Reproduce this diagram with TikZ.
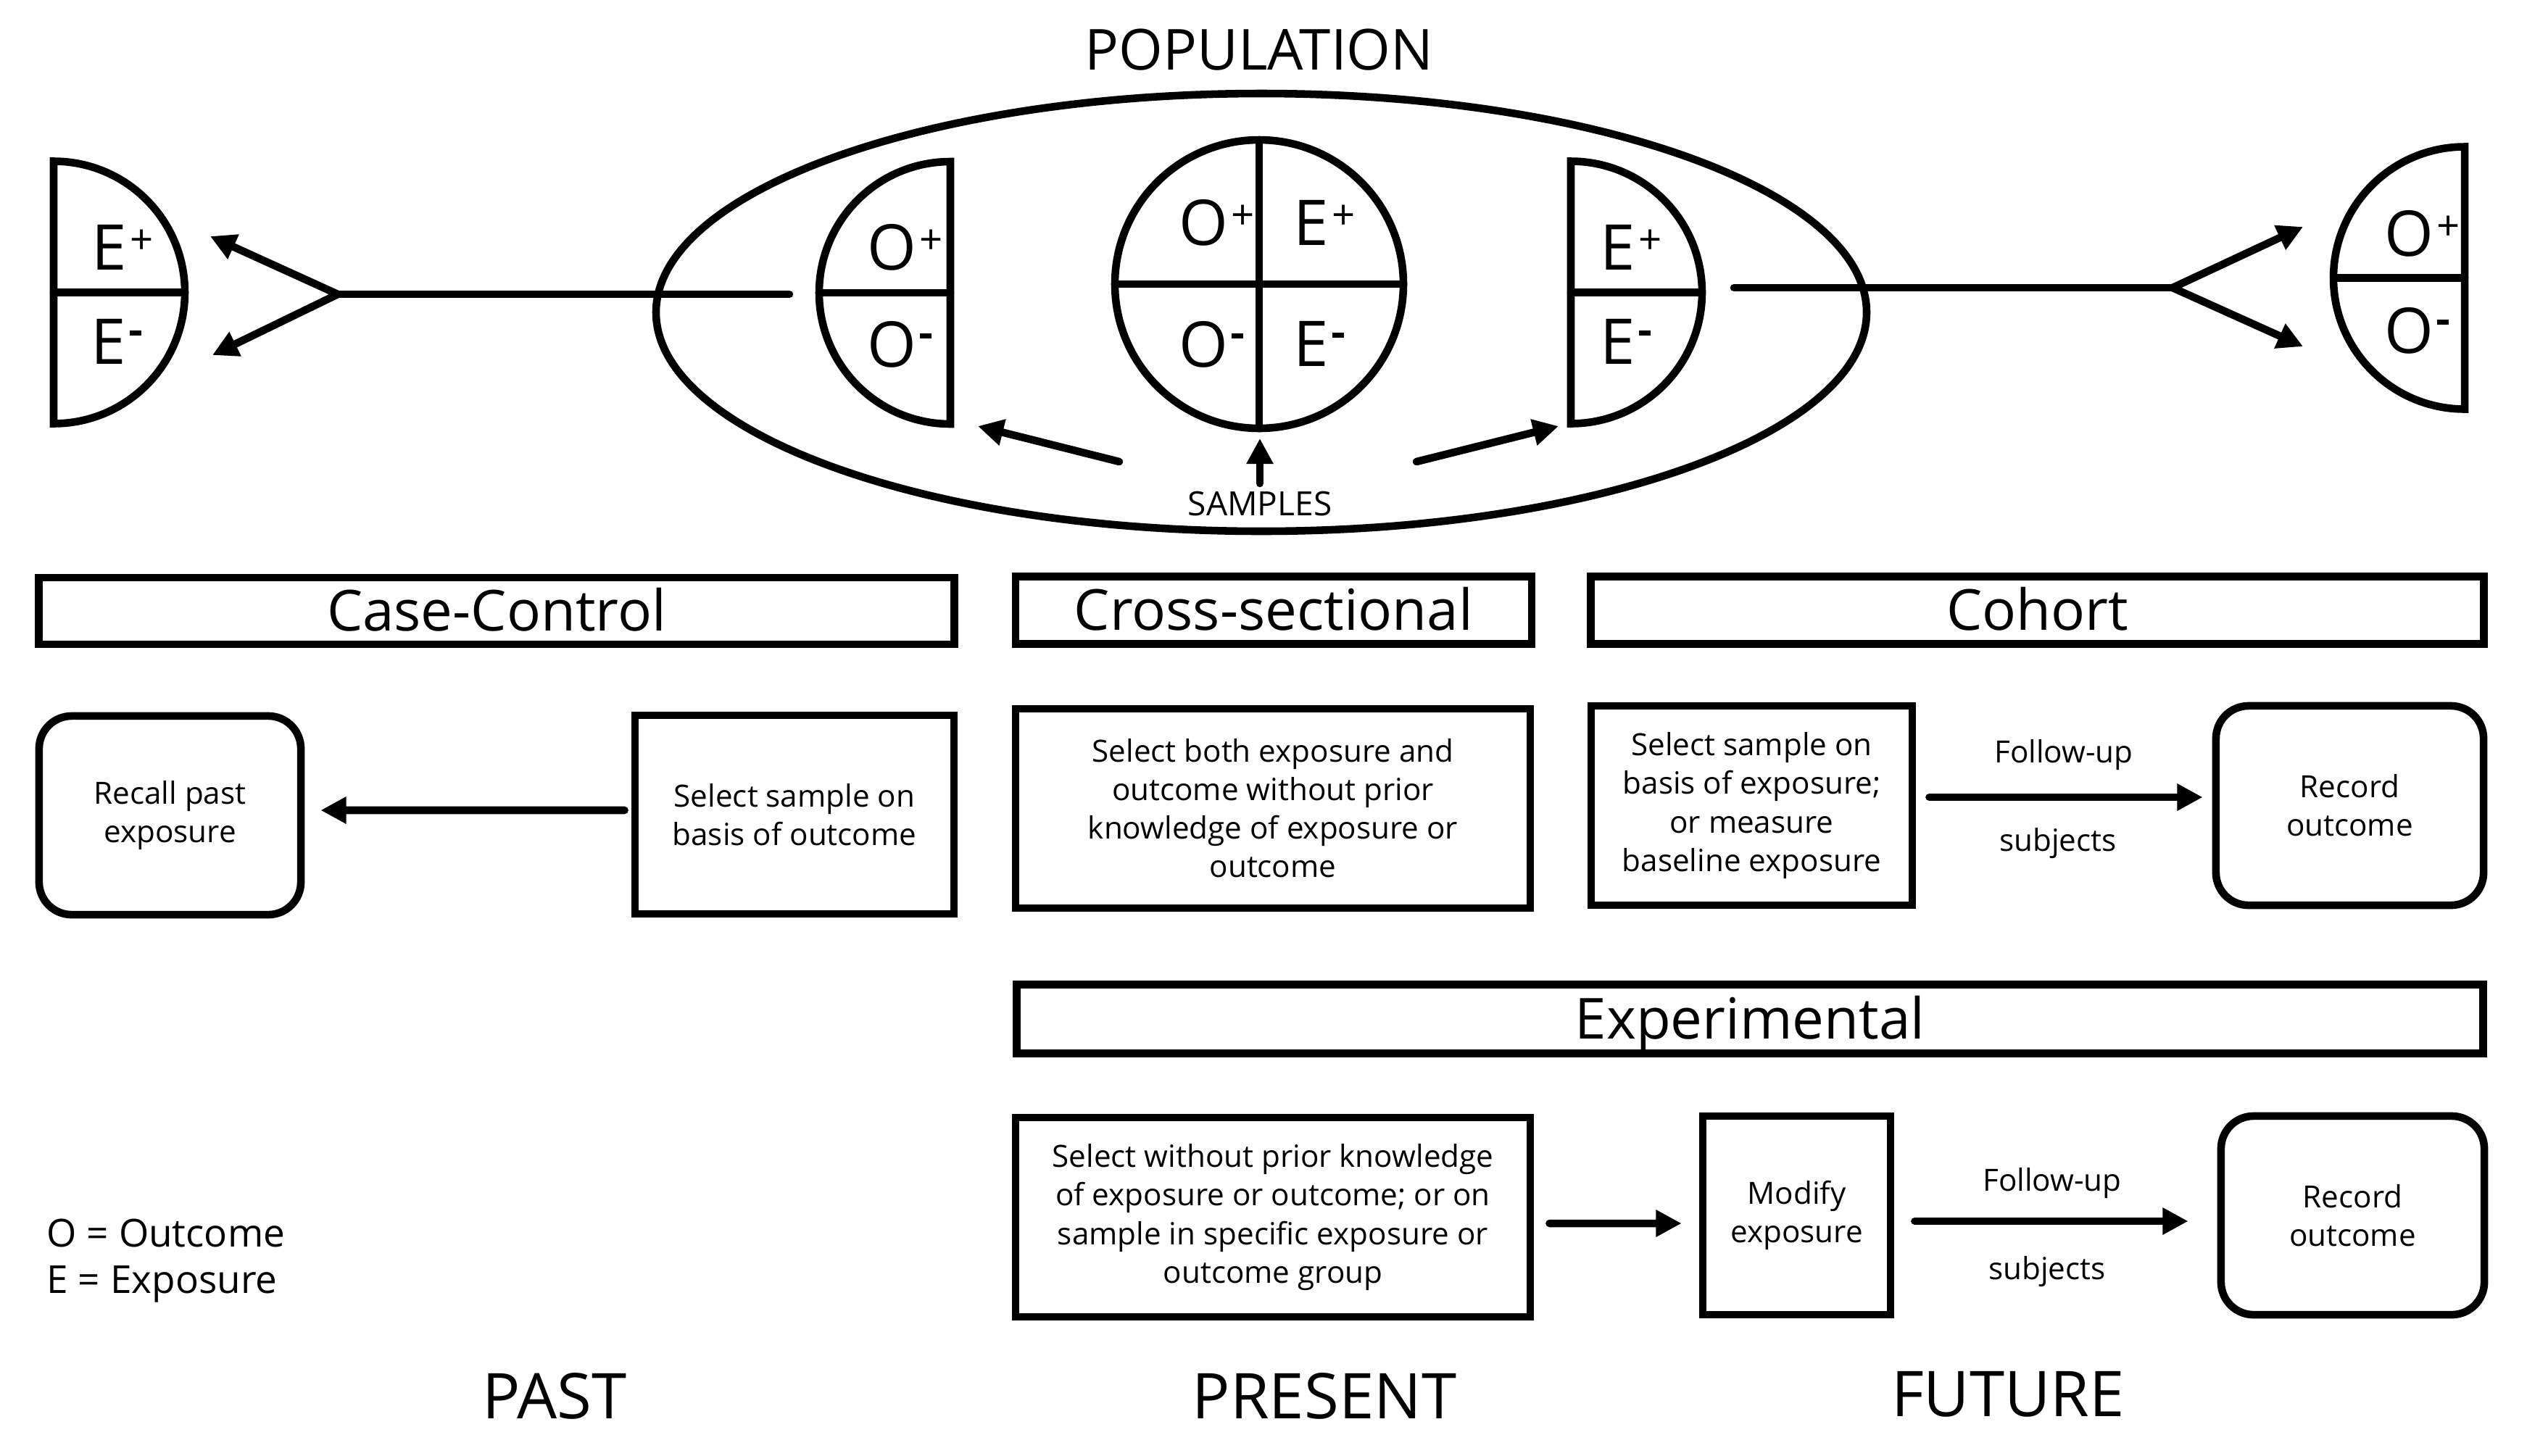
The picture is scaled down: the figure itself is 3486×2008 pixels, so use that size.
\documentclass[tikz,border=0pt]{standalone}
\usepackage{fontspec}
\setmainfont{Open Sans}
\usetikzlibrary{arrows.meta}
\newcommand\pl{\kern1.2pt\raisebox{6pt}{\fontsize{16}{16}\selectfont +}}
\newcommand\mi{\kern1.4pt\raisebox{11pt}{\rule{4.5pt}{2.2pt}}}
\tikzset{
 ln/.style={line width=3pt, line cap=round},
 tipA/.tip={Triangle[length=10pt,width=10pt]},
 arr/.style={ln, -tipA},
 boxn/.style={draw, line width=3pt, align=center, inner sep=0pt, font=\fontsize{12}{15.1}\selectfont},
 rbox/.style={boxn, rounded corners=0.45cm},
 bar/.style={draw, line width=3pt, inner sep=0pt, text height=15.9pt, text depth=0pt, font=\fontsize{22.2}{26}\selectfont},
 eo/.style={inner sep=0pt, anchor=base west, font=\fontsize{24.75}{28}\selectfont},
 big/.style={inner sep=0pt, anchor=base, font=\fontsize{24.75}{28}\selectfont},
 small/.style={inner sep=0pt, anchor=base, font=\fontsize{12}{15.1}\selectfont},
 leg/.style={inner sep=0pt, anchor=base west, font=\fontsize{15.1}{18}\selectfont},
}
\begin{document}
\begin{tikzpicture}[x=0.01cm,y=-0.01cm]
\fill[white] (0,0) rectangle (3486,2008);
\useasboundingbox (0,0) rectangle (3486,2008);

% population
\node[inner sep=0pt, anchor=base, font=\fontsize{22.2}{26}\selectfont] (pop) at (1737,96) {POPULATION};
\draw[ln] (1740,431) ellipse [x radius=835, y radius=302];

% left E half-disc
\draw[ln] (74,222.5) arc[start angle=-90, end angle=90, radius=181] -- cycle;
\draw[ln] (74,403.5) -- (255,403.5);
\node[eo] (le1) at (126,372) {E\pl};
\node[eo] (le2) at (125,502) {E\mi};

% middle O half-disc
\draw[ln] (1311,223) arc[start angle=-90, end angle=-270, radius=181] -- cycle;
\draw[ln] (1130,404) -- (1311,404);
\node[eo] (mo1) at (1196,372) {O\pl};
\node[eo] (mo2) at (1196,506) {O\mi};

% central circle
\draw[ln] (1737,392) circle[radius=199];
\draw[ln] (1538,392) -- (1936,392);
\draw[ln] (1737,193) -- (1737,591);
\node[eo] (co1) at (1626,338) {O\pl};
\node[eo] (ce1) at (1784,338) {E\pl};
\node[eo] (co2) at (1626,506) {O\mi};
\node[eo] (ce2) at (1784,505) {E\mi};

% right E half-disc
\draw[ln] (2167,222.5) arc[start angle=-90, end angle=90, radius=181] -- cycle;
\draw[ln] (2167,403.5) -- (2348,403.5);
\node[eo] (re1) at (2207,372) {E\pl};
\node[eo] (re2) at (2207,502) {E\mi};

% far right O half-disc
\draw[ln] (3400,202.5) arc[start angle=-90, end angle=-270, radius=181] -- cycle;
\draw[ln] (3219,383.5) -- (3400,383.5);
\node[eo] (fo1) at (3289,353) {O\pl};
\node[eo] (fo2) at (3289,487) {O\mi};

% left fork
\coordinate (lfe) at (1089,406);
\coordinate (lf) at (466,406);
\coordinate (lt1) at (290,326);
\coordinate (lt2) at (293,490);
\draw[ln] (lfe) -- (lf);
\draw[ln, tipA-tipA] (lt1) -- (lf) -- (lt2);

% right fork
\coordinate (rfs) at (2392,397);
\coordinate (rf) at (2997,397);
\coordinate (rt1) at (3177,313);
\coordinate (rt2) at (3177,478);
\draw[ln] (rfs) -- (rf);
\draw[ln, tipA-tipA] (rt1) -- (rf) -- (rt2);

% samples
\node[inner sep=0pt, anchor=base, font=\fontsize{13.1}{16}\selectfont] (samples) at (1738,711) {SAMPLES};
\coordinate (su0) at (1738,667); \coordinate (su1) at (1738,605);
\coordinate (sl0) at (1544,637); \coordinate (sl1) at (1349,588);
\coordinate (sr0) at (1954,637); \coordinate (sr1) at (2150,588);
\draw[arr] (su0) -- (su1);
\draw[arr] (sl0) -- (sl1);
\draw[arr] (sr0) -- (sr1);

% title bars
\node[bar, minimum width=12.62cm, minimum height=0.92cm] (cc) at (685,843) {Case-Control};
\node[bar, minimum width=7.12cm, minimum height=0.93cm] (cs) at (1757,842) {Cross-sectional};
\node[bar, minimum width=12.31cm, minimum height=0.93cm] (coh) at (2810.5,842) {Cohort};
\node[bar, minimum width=20.22cm, minimum height=0.95cm] (ex) at (2414,1406) {Experimental};

% row boxes
\node[rbox, minimum width=3.61cm, minimum height=2.74cm] (recall) at (234.5,1125) {Recall past\\exposure};
\node[boxn, minimum width=4.40cm, minimum height=2.74cm] (selout) at (1096,1124) {Select sample on\\basis of outcome};
\node[boxn, minimum width=7.10cm, minimum height=2.75cm] (selboth) at (1756,1115.5) {Select both exposure and\\outcome without prior\\knowledge of exposure or\\outcome};
\node[boxn, minimum width=4.43cm, minimum height=2.75cm] (selexp) at (2416.5,1111.5) {Select sample on\\basis of exposure;\\or measure\\baseline exposure};
\node[rbox, minimum width=3.69cm, minimum height=2.75cm] (rec1) at (3241.5,1111.5) {Record\\outcome};

\node[boxn, minimum width=7.10cm, minimum height=2.75cm] (selwo) at (1756,1679.5) {Select without prior knowledge\\of exposure or outcome; or on\\sample in specific exposure or\\outcome group};
\node[boxn, minimum width=2.59cm, minimum height=2.74cm] (modify) at (2478.5,1677) {Modify\\exposure};
\node[rbox, minimum width=3.63cm, minimum height=2.74cm] (rec2) at (3245.5,1677) {Record\\outcome};

% arrows between boxes
\draw[arr] ([xshift=-0.09cm,yshift=0.06cm]selout.west) -- ([xshift=0.22cm,yshift=0.07cm]recall.east);
\draw[arr] ([xshift=0.18cm,yshift=0.115cm]selexp.east) -- ([xshift=-0.13cm,yshift=0.115cm]rec1.west);
\draw[arr] ([xshift=0.21cm,yshift=-0.085cm]selwo.east) -- ([xshift=-0.24cm,yshift=-0.11cm]modify.west);
\draw[arr] ([xshift=0.28cm,yshift=-0.08cm]modify.east) -- ([xshift=-0.40cm,yshift=-0.08cm]rec2.west);

\node[small] (fu1) at (2847,1052) {Follow-up};
\node[small] (sb1) at (2839,1174) {subjects};
\node[small] (fu2) at (2831,1643) {Follow-up};
\node[small] (sb2) at (2824,1765) {subjects};

% legend
\node[leg] (lo) at (64,1720) {O = Outcome};
\node[leg] (lx) at (64,1784) {E = Exposure};

% time labels
\node[big] (past) at (765,1957) {PAST};
\node[big] (present) at (1827,1957) {PRESENT};
\node[big] (future) at (2770,1954) {FUTURE};
\end{tikzpicture}
\end{document}
